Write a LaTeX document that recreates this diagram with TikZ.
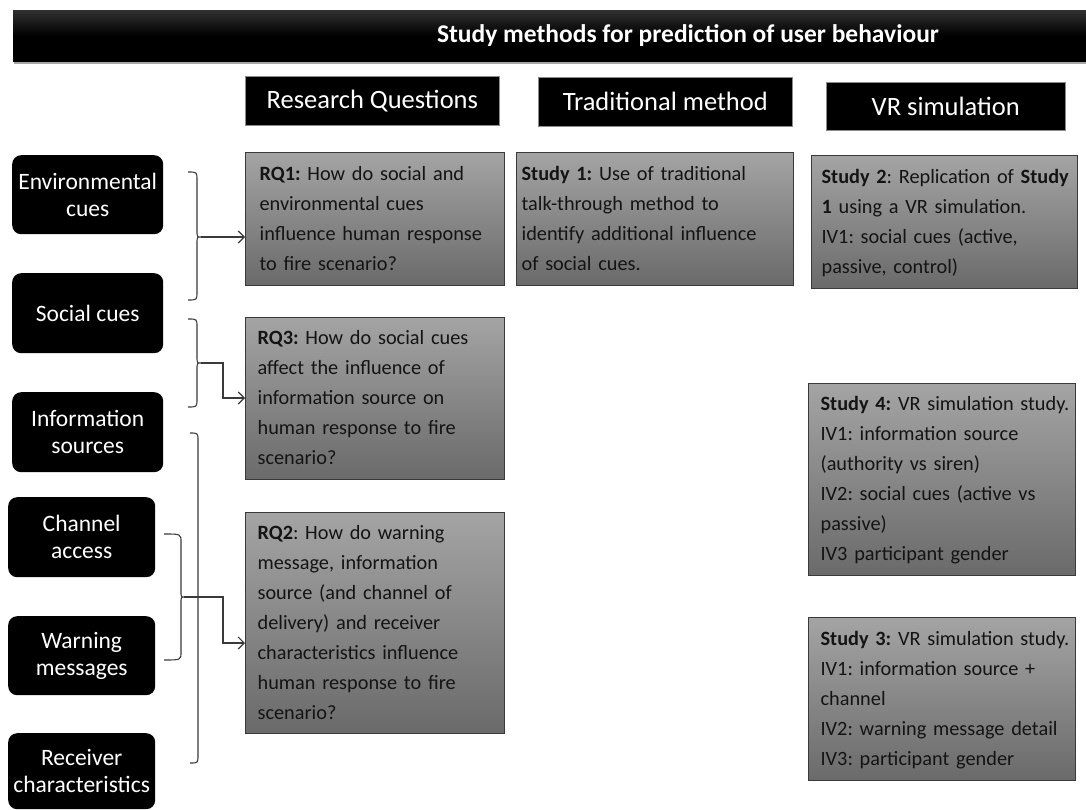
\documentclass[tikz,border=0pt]{standalone}
\usepackage{fontspec}
\setmainfont{Carlito}
\frenchspacing
\usetikzlibrary{arrows.meta,shadows}
\definecolor{boxtop}{HTML}{A4A4A4}
\definecolor{boxbot}{HTML}{6A6A6A}
\definecolor{boxline}{HTML}{3A3A3A}
\definecolor{txt}{HTML}{141414}
\definecolor{lnk}{HTML}{3A3A3A}
\newcommand\textlines[1]{\begin{tabular}{@{}l@{}}#1\end{tabular}}
\pgfdeclareverticalshading{titleshade}{100bp}{color(0bp)=(black); color(50bp)=(black); color(100bp)=(black!62)}
\begin{document}
\begin{tikzpicture}[x=1pt,y=-1pt,
  titlebar/.style={shading=titleshade, draw=none, anchor=north west, inner sep=0pt,
    drop shadow={shadow xshift=1pt, shadow yshift=-3pt, opacity=0.35, fill=black}},
  titletext/.style={text=white, font=\bfseries\fontsize{25.5}{30}\selectfont, inner sep=0pt},
  header/.style={fill=black, draw=black!45, line width=0.6pt, text=white,
    font=\fontsize{26.5}{30}\selectfont, anchor=north west, inner sep=0pt},
  factor/.style={fill=black, rounded corners=9pt, text=white, align=center,
    font=\fontsize{23.5}{27}\selectfont, anchor=north west, inner sep=0pt},
  graybox/.style={top color=boxtop, bottom color=boxbot, draw=boxline, line width=1.2pt,
    text=txt, align=left, font=\fontsize{20.3}{30}\selectfont, anchor=north west,
    inner ysep=0pt, inner xsep=#1},
  brk/.style={draw=lnk, line width=1.1pt},
  conn/.style={draw=lnk, line width=1.1pt, -{Straight Barb[length=6pt,width=12pt]}},
]
\useasboundingbox (0,0) rectangle (1086,810);
\fill[white] (0,0) rectangle (1086,810);

% title
\node[titlebar, minimum width=1073pt, minimum height=51pt] (bar) at (13,10) {};
\node[titletext] (title) at (688,36) {Study methods for prediction of user behaviour};

% headers
\node[header, minimum width=254pt, minimum height=49pt] (hrq) at (245,76) {Research Questions};
\node[header, minimum width=254pt, minimum height=49pt] (htm) at (538,77) {Traditional method};
\node[header, minimum width=239pt, minimum height=48pt] (hvr) at (826,82) {VR simulation};

% factors
\node[factor, minimum width=151pt, minimum height=79pt] (env) at (12,155) {Environmental\\cues};
\node[factor, minimum width=151pt, minimum height=80pt] (soc) at (12,273) {Social cues};
\node[factor, minimum width=151pt, minimum height=80pt] (inf) at (12,392) {Information\\sources};
\node[factor, minimum width=147pt, minimum height=80pt] (cha) at (8,497) {Channel\\access};
\node[factor, minimum width=147pt, minimum height=79pt] (war) at (8,616) {Warning\\messages};
\node[factor, minimum width=147pt, minimum height=76pt] (rec) at (8,733) {Receiver\\characteristics};

% research questions
\node[graybox=14pt, text width=231pt, minimum width=259pt, minimum height=133pt] (rq1) at (245,152)
  {\textlines{\textbf{RQ1:} How do social and\\environmental cues\\influence human response\\to fire scenario?}};
\node[graybox=12pt, text width=235pt, minimum width=259pt, minimum height=162pt] (rq3) at (245,317)
  {\textlines{\textbf{RQ3:} How do social cues\\affect the influence of\\information source on\\human response to fire\\scenario?}};
\node[graybox=12pt, text width=235pt, minimum width=259pt, minimum height=221pt] (rq2) at (245,512)
  {\textlines{\textbf{RQ2}: How do warning\\message, information\\source (and channel of\\delivery) and receiver\\characteristics influence\\human response to fire\\scenario?}};

% studies
\node[graybox=5pt, text width=267pt, minimum width=277pt, minimum height=133pt] (st1) at (516,152)
  {\textlines{\textbf{Study 1:} Use of traditional\\talk-through method to\\identify additional influence\\of social cues.}};
\node[graybox=10pt, text width=246pt, minimum width=266pt, minimum height=133pt] (st2) at (811,155)
  {\textlines{\textbf{Study 2}: Replication of \textbf{Study}\\\textbf{1} using a VR simulation.\\IV1: social cues (active,\\passive, control)}};
\node[graybox=12pt, text width=243pt, minimum width=267pt, minimum height=192pt] (st4) at (808,383)
  {\textlines{\textbf{Study 4:} VR simulation study.\\IV1: information source\\(authority vs siren)\\IV2: social cues (active vs\\passive)\\IV3 participant gender}};
\node[graybox=12pt, text width=243pt, minimum width=267pt, minimum height=163pt] (st3) at (808,617)
  {\textlines{\textbf{Study 3:} VR simulation study.\\IV1: information source +\\channel\\IV2: warning message detail\\IV3: participant gender}};

% braces
\draw[brk] (188,172) .. controls (197,172) .. (197,180) -- (197,230)
  .. controls (197,237) .. (201,237) .. controls (197,237) .. (197,244)
  -- (197,292) .. controls (197,300) .. (188,300);
\draw[brk] (188,319) .. controls (197,319) .. (197,327) -- (197,356)
  .. controls (197,363) .. (201,363) .. controls (197,363) .. (197,370)
  -- (197,399) .. controls (197,407) .. (188,407);
\draw[brk] (190,433) .. controls (198,433) .. (198,441) -- (198,755)
  .. controls (198,763) .. (190,763);
\draw[brk] (164,534) .. controls (181,534) .. (181,542) -- (181,590)
  .. controls (181,597) .. (184,597) .. controls (181,597) .. (181,604)
  -- (181,652) .. controls (181,660) .. (164,660);

% connectors
\coordinate (t1) at (201,237);
\coordinate (t2) at (201,363);
\coordinate (k2) at (223,398);
\coordinate (t4) at (184,597);
\coordinate (k4) at (223,643);
\draw[conn] (t1) -- (t1 -| rq1.west);
\draw[conn] (t2) -| (k2) -- (k2 -| rq3.west);
\draw[conn] (t4) -| (k4) -- (k4 -| rq2.west);
\end{tikzpicture}
\end{document}
